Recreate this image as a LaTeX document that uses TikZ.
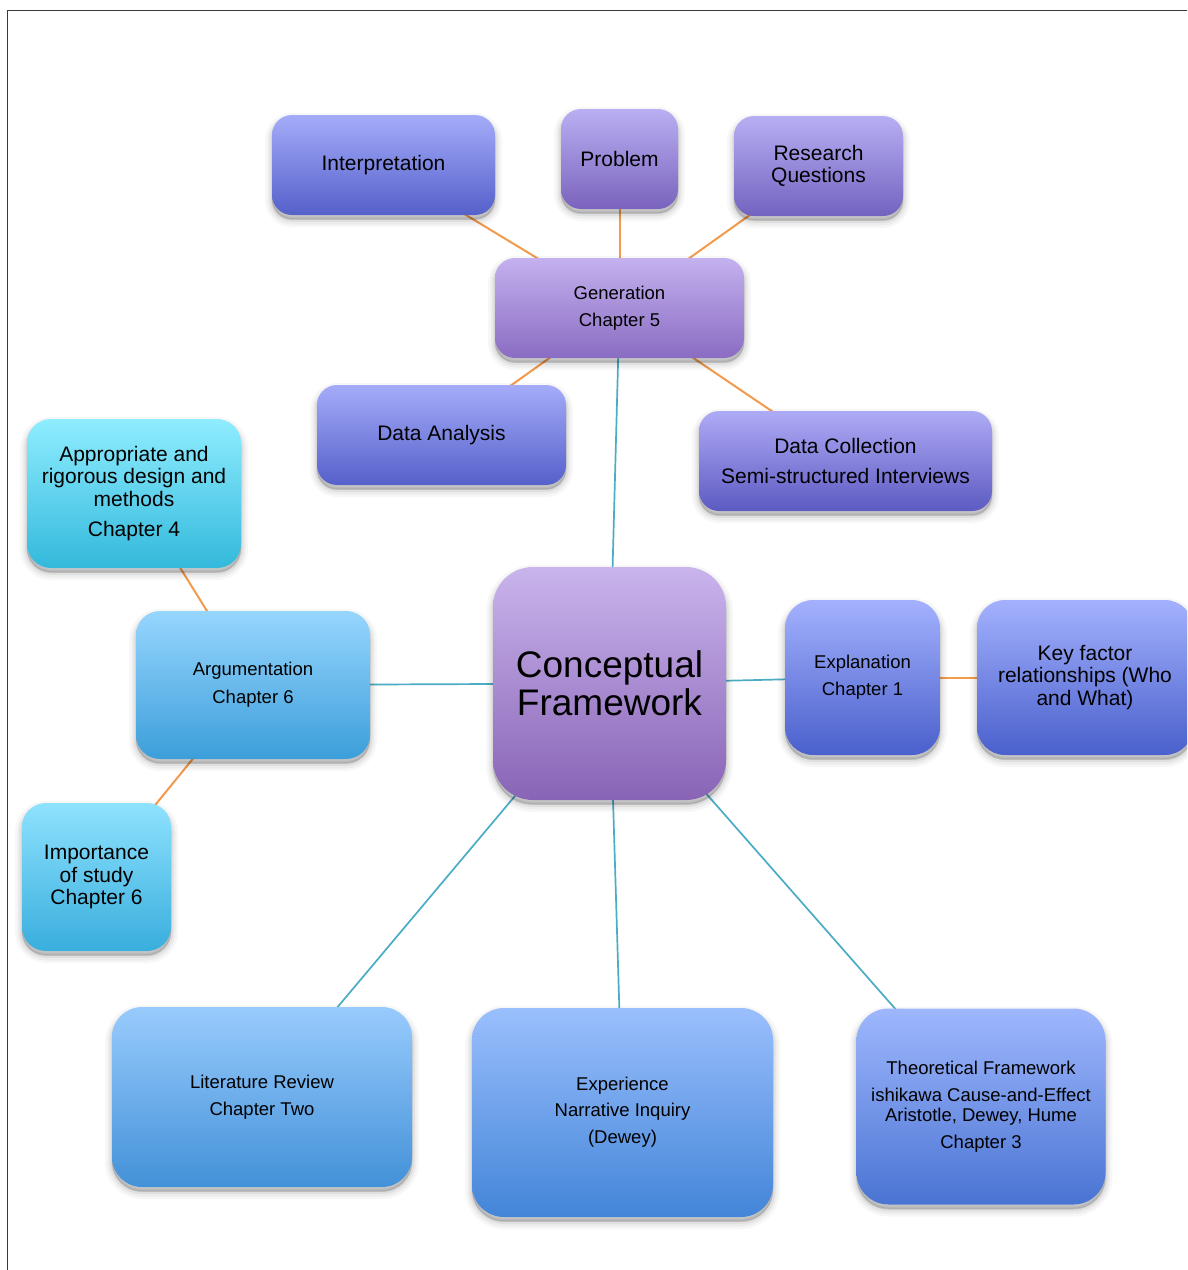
\documentclass[tikz,border=0pt]{standalone}
\usepackage{fontspec}
\setmainfont{Liberation Sans}
\pgfdeclarelayer{background}
\pgfsetlayers{background,main}

% connector colours
\definecolor{lineorange}{HTML}{F39A4C}
\definecolor{lineteal}{HTML}{4BACC6}
\definecolor{framegray}{HTML}{3A3A3A}
% box gradients (top / bottom)
\definecolor{violetT}{HTML}{A4ACF9}\definecolor{violetB}{HTML}{5560CA}
\definecolor{purpleT}{HTML}{BAAFF2}\definecolor{purpleB}{HTML}{7A63BD}
\definecolor{genT}{HTML}{C4B1EF}\definecolor{genB}{HTML}{8A6CC2}
\definecolor{collT}{HTML}{AEABF6}\definecolor{collB}{HTML}{5D5AC2}
\definecolor{cyanT}{HTML}{8FEDFF}\definecolor{cyanB}{HTML}{33B9DC}
\definecolor{argT}{HTML}{96D6FE}\definecolor{argB}{HTML}{3C9EDA}
\definecolor{impT}{HTML}{8EE2FE}\definecolor{impB}{HTML}{39AEDD}
\definecolor{cfT}{HTML}{C9B4EC}\definecolor{cfB}{HTML}{8964B6}
\definecolor{explT}{HTML}{A3B1FD}\definecolor{explB}{HTML}{4A60CC}
\definecolor{litT}{HTML}{98CBFD}\definecolor{litB}{HTML}{4391D8}
\definecolor{expT}{HTML}{9ABFFD}\definecolor{expB}{HTML}{4385D8}
\definecolor{theoT}{HTML}{9EB7FD}\definecolor{theoB}{HTML}{4A74D3}

\tikzset{
  % soft drop shadow built from a few translucent, widening copies of the box
  softshadow/.style={
    preaction={fill=black, draw=black, opacity=0.03, line width=14pt, line join=round, transform canvas={yshift=-5pt}},
    preaction={fill=black, draw=black, opacity=0.04, line width=9pt, line join=round, transform canvas={yshift=-5pt}},
    preaction={fill=black, draw=black, opacity=0.05, line width=5pt, line join=round, transform canvas={yshift=-4.5pt}},
    preaction={fill=black, draw=black, opacity=0.06, line width=1.5pt, line join=round, transform canvas={yshift=-4pt}}},
  card/.style={draw=none, inner sep=0pt, align=center, rounded corners=20pt, softshadow},
  fill2/.style 2 args={top color=#1, bottom color=#2},
  bigtext/.style={font=\fontsize{21}{22.5}\selectfont},
  smalltext/.style={font=\fontsize{18.5}{20}\selectfont},
  orangeline/.style={draw=lineorange, line width=2pt},
  tealline/.style={draw=lineteal, line width=1.7pt},
}

\begin{document}
\begin{tikzpicture}[x=1pt, y=-1pt]
  \clip (0,0) rectangle (1187,1270);
  \begin{pgfonlayer}{background}
    \fill[white] (0,0) rectangle (1187,1270);
  \end{pgfonlayer}
  \draw[framegray, line width=1.3pt] (1190,10.5) -- (7.5,10.5) -- (7.5,1275);

  % top row
  \node[card, bigtext, fill2={violetT}{violetB}, minimum width=223pt, minimum height=100pt]
    (interp) at (383.5,165) {Interpretation};
  \node[card, bigtext, fill2={purpleT}{purpleB}, minimum width=117pt, minimum height=100pt]
    (problem) at (619.5,159) {Problem};
  \node[card, bigtext, fill2={purpleT!85!violetT}{purpleB!80!violetB}, minimum width=169pt, minimum height=100pt]
    (research) at (818.5,166) {Research\\Questions};

  % generation and its data boxes
  \node[card, smalltext, fill2={genT}{genB}, minimum width=249pt, minimum height=100pt]
    (gen) at (619.5,308) {Generation\\[7pt]Chapter 5};
  \node[card, bigtext, fill2={violetT}{violetB}, minimum width=249pt, minimum height=100pt]
    (dana) at (441.5,435) {Data Analysis};
  \node[card, bigtext, fill2={collT}{collB}, minimum width=293pt, minimum height=100pt]
    (dcol) at (845.5,461) {Data Collection\\[7.5pt]Semi-structured Interviews};

  % left branch
  \node[card, bigtext, fill2={cyanT}{cyanB}, rounded corners=24pt, minimum width=214pt, minimum height=149pt]
    (approp) at (134,493.5) {Appropriate and\\rigorous design and\\methods\\[7.5pt]Chapter 4};
  \node[card, smalltext, fill2={argT}{argB}, rounded corners=24pt, minimum width=234pt, minimum height=148pt]
    (argu) at (253,685) {Argumentation\\[8pt]Chapter 6};
  \node[card, bigtext, fill2={impT}{impB}, rounded corners=24pt, minimum width=149pt, minimum height=148pt]
    (import) at (96.5,877) {Importance\\of study\\Chapter 6};

  % centre
  \node[card, font=\fontsize{37}{38}\selectfont, fill2={cfT}{cfB}, rounded corners=40pt,
        minimum width=233pt, minimum height=233pt]
    (cf) at (609.5,683.5) {Conceptual\\Framework};

  % right branch
  \node[card, smalltext, fill2={explT}{explB}, rounded corners=28pt, minimum width=155pt, minimum height=155pt]
    (expl) at (862.5,677.5) {Explanation\\[7pt]Chapter 1};
  \node[card, bigtext, fill2={explT}{explB}, rounded corners=28pt, minimum width=216pt, minimum height=155pt]
    (key) at (1085,677.5) {Key factor\\relationships (Who\\and What)};

  % bottom row
  \node[card, smalltext, fill2={litT}{litB}, rounded corners=30pt, minimum width=300pt, minimum height=180pt]
    (lit) at (262,1097) {Literature Review\\[7pt]Chapter Two};
  \node[card, smalltext, fill2={expT}{expB}, rounded corners=32pt, minimum width=301pt, minimum height=209pt]
    (exper) at (622.5,1112.5) {Experience\\[6pt]Narrative Inquiry\\[7pt](Dewey)};
  \node[card, smalltext, fill2={theoT}{theoB}, rounded corners=32pt, minimum width=249pt, minimum height=196pt]
    (theo) at (981,1106.5) {Theoretical Framework\\[7pt]ishikawa Cause-and-Effect\\Aristotle, Dewey, Hume\\[7pt]Chapter 3};

  % connectors run centre to centre, hidden behind the boxes
  \begin{pgfonlayer}{background}
    \draw[orangeline] (interp.center) -- (gen.center);
    \draw[orangeline] (problem.center) -- (gen.center);
    \draw[orangeline] (research.center) -- (gen.center);
    \draw[orangeline] (gen.center) -- (dana.center);
    \draw[orangeline] (gen.center) -- (dcol.center);
    \draw[orangeline] (approp.center) -- (argu.center);
    \draw[orangeline] (argu.center) -- (import.center);
    \draw[orangeline] (expl.center) -- (key.center);
    \draw[tealline] (gen.center) -- (cf.center);
    \draw[tealline] (argu.center) -- (cf.center);
    \draw[tealline] (cf.center) -- (expl.center);
    \draw[tealline] (cf.center) -- (lit.center);
    \draw[tealline] (cf.center) -- (exper.center);
    \draw[tealline] (cf.center) -- (theo.center);
  \end{pgfonlayer}
\end{tikzpicture}
\end{document}
